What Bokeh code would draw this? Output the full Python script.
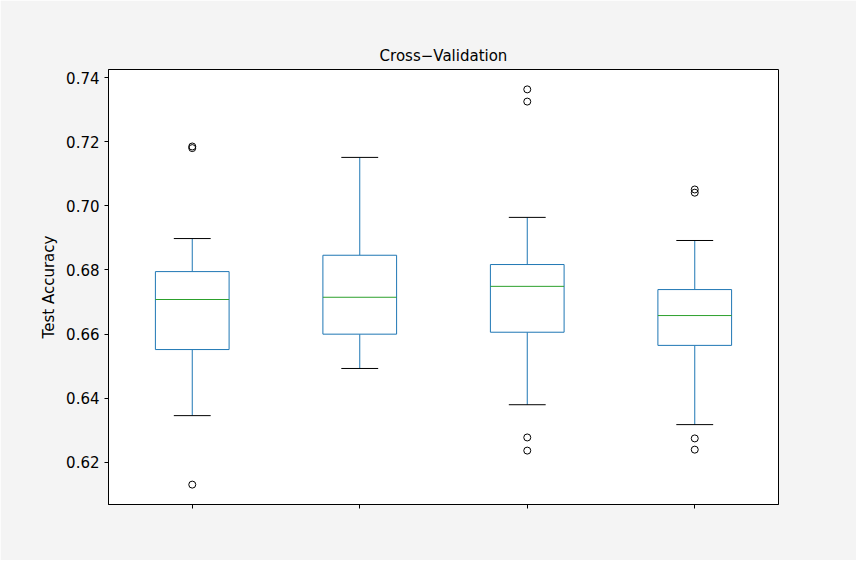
from bokeh.plotting import figure
from bokeh.embed import file_html
from bokeh.resources import INLINE
from bokeh.models import FixedTicker, Label
import math

cats = ["Nelder_Mead", "Random_search_gaussian_distribution", "Random_walk_variable_step", "Simulated_Annealing"]
lower = [0.6346, 0.6493, 0.6380, 0.6318]
q1 = [0.6552, 0.6600, 0.6606, 0.6565]
med = [0.6708, 0.6715, 0.6749, 0.6658]
q3 = [0.6795, 0.6846, 0.6817, 0.6739]
upper = [0.6898, 0.7151, 0.6964, 0.6892]
out_x = [1, 1, 1, 3, 3, 3, 3, 4, 4, 4, 4]
out_y = [0.7185, 0.7180, 0.6131, 0.7363, 0.7325, 0.6278, 0.6237, 0.7051, 0.7041, 0.6275, 0.6240]
yticks = [0.62, 0.64, 0.66, 0.68, 0.70, 0.72, 0.74]

xs = [1, 2, 3, 4]
bw = 0.22
cw = 0.11
ymin, ymax = 0.6069, 0.7425

p = figure(width=856, height=560, output_backend="svg", toolbar_location=None,
           x_range=(0.5, 4.5), y_range=(ymin, ymax),
           min_border_left=108, min_border_right=78, min_border_top=69, min_border_bottom=56,
           title="Cross\u2212Validation")
p.background_fill_color = "white"
p.border_fill_color = "#f4f4f4"
p.outline_line_color = "black"
p.grid.visible = False
p.title.align = "center"
p.title.text_font = "DejaVu Sans"
p.title.text_font_size = "15px"
p.title.text_font_style = "normal"
p.title.text_color = "black"

p.segment(xs, upper, xs, q3, line_color="#1f77b4", line_width=1)
p.segment(xs, lower, xs, q1, line_color="#1f77b4", line_width=1)
p.segment([x - cw for x in xs], upper, [x + cw for x in xs], upper, line_color="black", line_width=1)
p.segment([x - cw for x in xs], lower, [x + cw for x in xs], lower, line_color="black", line_width=1)
p.quad(left=[x - bw for x in xs], right=[x + bw for x in xs], bottom=q1, top=q3,
       fill_color="white", line_color="#1f77b4", line_width=1)
p.segment([x - bw for x in xs], med, [x + bw for x in xs], med, line_color="#2ca02c", line_width=1)
p.scatter(out_x, out_y, marker="circle", size=7, fill_color=None, line_color="black", line_width=1)

p.xaxis.ticker = FixedTicker(ticks=xs)
p.xaxis.major_label_text_font_size = "0px"
p.xaxis.major_label_text_color = None
offsets = [23, 39, 33, 26]
pxu = (ymax - ymin) / 435.0
for x, c, o in zip(xs, cats, offsets):
    p.add_layout(Label(x=x, y=ymin - o * pxu, text=c, angle=10 * math.pi / 180,
                       text_align="center", text_baseline="middle",
                       text_font="DejaVu Sans", text_font_size="15px", text_color="black"))
p.yaxis.ticker = FixedTicker(ticks=yticks)
p.yaxis.major_label_overrides = {v: f"{v:.2f}" for v in yticks}
p.yaxis.axis_label = "Test Accuracy"
for ax in (p.xaxis[0], p.yaxis[0]):
    ax.major_label_text_font = "DejaVu Sans"
    ax.axis_label_text_font = "DejaVu Sans"
    ax.axis_label_text_font_size = "15px"
    ax.axis_label_text_font_style = "normal"
    ax.axis_label_text_color = "black"
    ax.minor_tick_line_color = None
    ax.major_tick_in = 0
    ax.major_tick_out = 4
    ax.axis_line_color = "black"
p.yaxis.major_label_text_font_size = "15px"
p.yaxis.major_label_text_color = "black"

open("out.html", "w").write(file_html(p, INLINE))
